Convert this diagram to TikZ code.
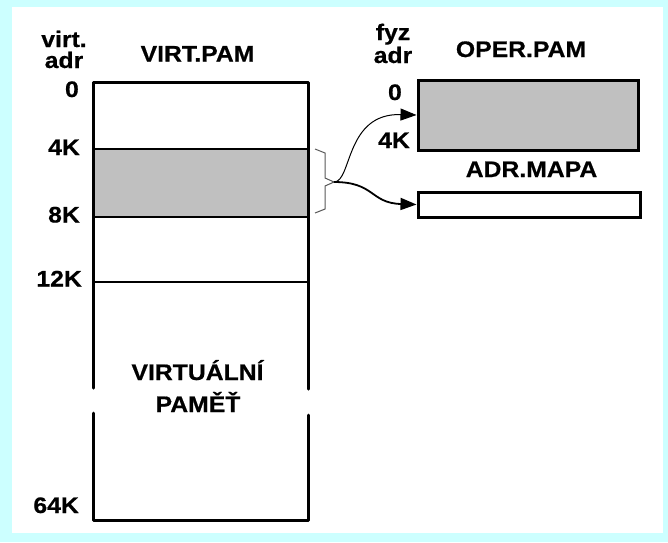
\documentclass[tikz,border=0pt]{standalone}
\usepackage{fontspec}
\setmainfont[FakeStretch=1.1, BoldFeatures={FakeBold=0.6}]{Liberation Sans}
\usetikzlibrary{arrows.meta, positioning}
\definecolor{bgcyan}{RGB}{204,255,255}
\definecolor{pagegray}{RGB}{192,192,192}
\tikzset{
    lbl/.style={font=\bfseries\fontsize{22.5}{21}\selectfont, inner sep=0pt},
    addr/.style={lbl, anchor=base east},
    title/.style={lbl, anchor=base},
    frame/.style={line width=3pt, line join=round, line cap=round},
    divider/.style={line width=2pt},
    pagebox/.style={rectangle, draw=black, line width=3pt, fill=pagegray, minimum width=220pt, minimum height=70pt, inner sep=0pt},
    mapbox/.style={pagebox, fill=white, minimum width=222pt, minimum height=25pt},
    link/.style={-{Triangle[length=16pt, width=12pt]}}
}

\begin{document}
\begin{tikzpicture}[x=1pt, y=-1pt]
    % --- Background ---
    \useasboundingbox (0,0) rectangle (668,542);
    \fill[bgcyan] (0,0) rectangle (668,542);
    \fill[white] (12,7) rectangle (663,533);

    % --- Virtual memory ---
    \node (page1) [rectangle, draw=black, line width=2pt, fill=pagegray, minimum width=215pt, minimum height=68pt, inner sep=0pt] at (200.5,183) {};
    \draw[divider] (93,282) -- (308,282);
    \draw[frame] (93,388) -- (93,82) -- (308,82) -- (308,389);
    \draw[frame] (93,413) -- (93,520) -- (308,520) -- (308,415);

    \node (virt) [title] at (64,47) {virt.};
    \node (virtadr) [title] at (64,68) {adr};
    \node (virtpam) [title] at (197.5,61.5) {VIRT.PAM};
    \node (v0) [addr] at (79,97) {0};
    \node (v4k) [addr] at (80,155) {4K};
    \node (v8k) [addr] at (80,222.5) {8K};
    \node (v12k) [addr] at (82,286.5) {12K};
    \node (v64k) [addr] at (79,513) {64K};
    \node (vname) [title] at (197.5,380) {VIRTUÁLNÍ};
    \node (vname2) [title] at (198,412) {PAMĚŤ};

    % --- Physical memory ---
    \node (oper) [pagebox] at (528,115) {};
    \node (adr) [mapbox] at (529,204.5) {};

    \node (fyz) [title] at (393,40) {fyz};
    \node (fyzadr) [title] at (393,63) {adr};
    \node (operpam) [title] at (521,57) {OPER.PAM};
    \node (f0) [addr] at (402,100) {0};
    \node (f4k) [addr] at (410,148) {4K};
    \node (adrmapa) [title] at (531.5,177) {ADR.MAPA};

    % --- Brace and mapping ---
    \coordinate (tip) at (334,182);
    \draw[gray!70!black, line width=1pt] (315,149) -- (325,153) -- (325,178) -- (tip) -- (325,186) -- (325,209) -- (315,213);
    \draw[link, line width=1pt] (tip) .. controls (352,182) and (345,113) .. (oper.west);
    \draw[link, line width=1.8pt] (tip) .. controls (375,182) and (370,203) .. (adr.west);
\end{tikzpicture}
\end{document}
